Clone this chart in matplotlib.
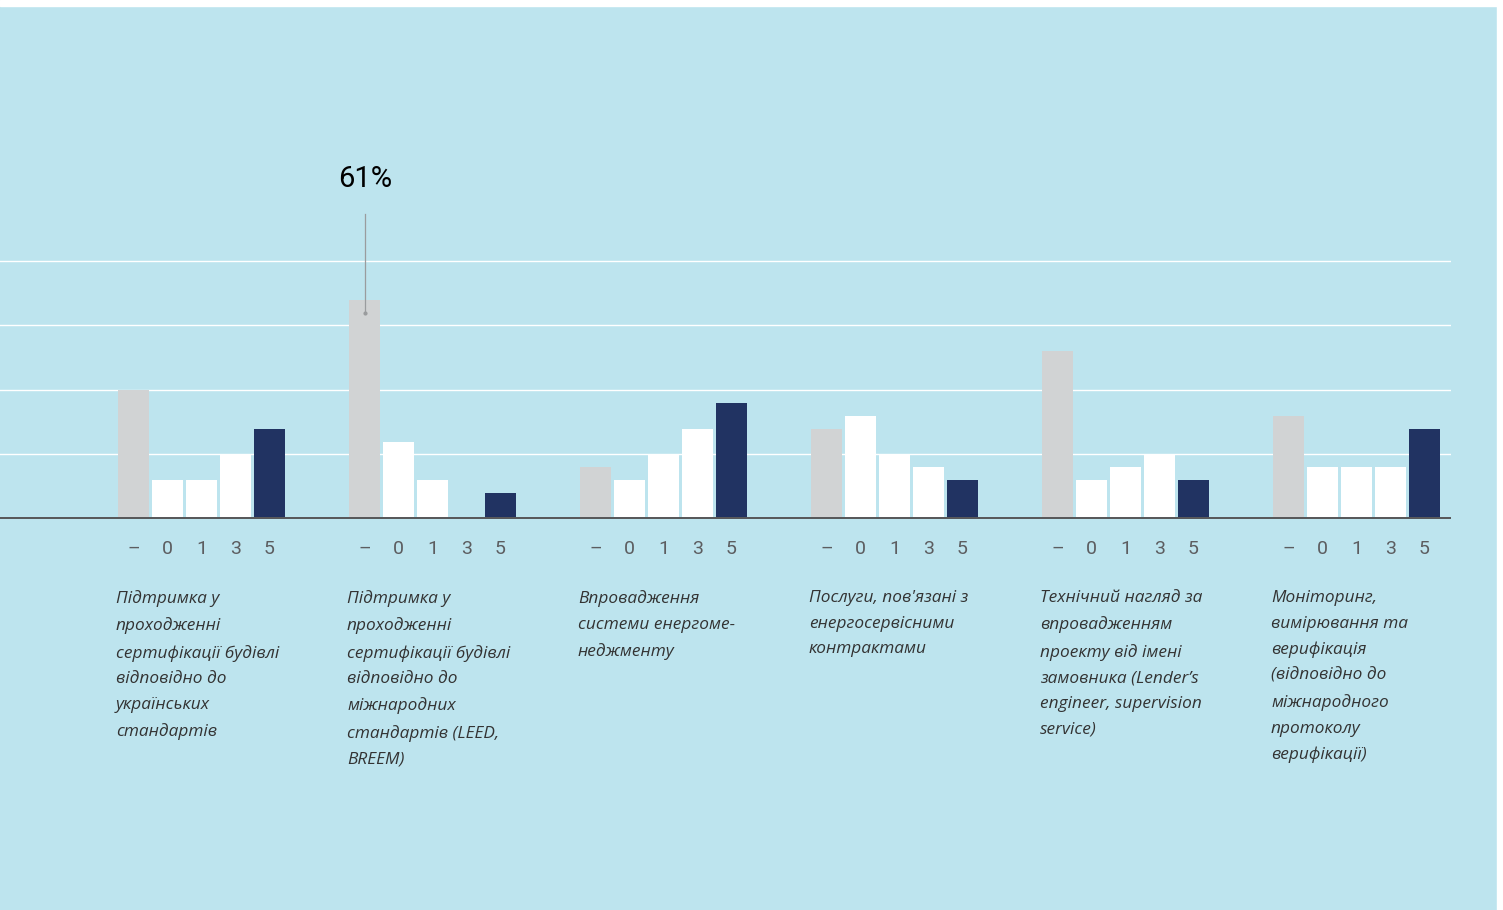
import matplotlib.pyplot as plt
from matplotlib.patches import Rectangle
from matplotlib import transforms

# respondents per answer, out of 28
total = 28
answers = ['–', '0', '1', '3', '5']
services = [
    "Підтримка у\nпроходженні\nсертифікації будівлі\nвідповідно до\nукраїнських\nстандартів",
    "Підтримка у\nпроходженні\nсертифікації будівлі\nвідповідно до\nміжнародних\nстандартів (LEED,\nBREEM)",
    "Впровадження\nсистеми енергоме-\nнеджменту",
    "Послуги, пов'язані з\nенергосервісними\nконтрактами",
    "Технічний нагляд за\nвпровадженням\nпроекту від імені\nзамовника (Lender’s\nengineer, supervision\nservice)",
    "Моніторинг,\nвимірювання та\nверифікація\n(відповідно до\nміжнародного\nпротоколу\nверифікації)",
]
counts = [
    [10, 3, 3, 5, 7],
    [17, 6, 3, 0, 2],
    [4, 3, 5, 7, 9],
    [7, 8, 5, 4, 3],
    [13, 3, 4, 5, 3],
    [8, 4, 4, 4, 7],
]
grid_counts = [5, 10, 15, 20]

bg = '#bde4ee'
bar_colors = ['#d1d3d4', 'white', 'white', 'white', '#213362']

W, H = 1503, 910
fig = plt.figure(figsize=(W / 100, H / 100), dpi=100, facecolor=bg)
# white margins on top and right
fig.patches.append(Rectangle((0, 1 - 6 / H), 1, 6 / H, transform=fig.transFigure,
                             color='white', zorder=-1))
fig.patches.append(Rectangle((1497 / W, 0), 6 / W, 1, transform=fig.transFigure,
                             color='white', zorder=-1))

ax = fig.add_axes([0, (H - 519) / H, 1451 / W, 513 / H])
ax.set_facecolor('none')
ax.set_xlim(0, 1451)
ax.set_ylim(0, 142)
for s in ax.spines.values():
    s.set_visible(False)

pct = lambda c: c * 100.0 / total

for y in grid_counts:
    ax.axhline(pct(y), color='white', lw=1.0, zorder=1)

group_x0 = 118
group_step = 231
bar_step = 34
bar_w = 31

xt, xl = [], []
for g, vals in enumerate(counts):
    for j, v in enumerate(vals):
        x = group_x0 + g * group_step + j * bar_step + bar_w / 2
        ax.bar(x, pct(v), width=bar_w, color=bar_colors[j], zorder=2)
        xt.append(x)
        xl.append(answers[j])

ax.axhline(0, color='#58595b', lw=3.6, zorder=3)
ax.set_xticks(xt)
ax.set_xticklabels(xl, fontsize=14, color='#5c5d60', family='Roboto')
ax.tick_params(axis='x', length=0, pad=15)
ax.set_yticks([])

# call-out for the largest share
gi, bi = 1, 0
xm = group_x0 + gi * group_step + bi * bar_step + bar_w / 2
vm = pct(counts[gi][bi])
ax.plot([xm, xm], [vm - 3.6, vm + 23.8], color='#9a9c9e', lw=0.9, zorder=4)
ax.plot([xm], [vm - 3.6], marker='o', ms=2, color='#9a9c9e', zorder=4)
ax.text(xm + 1, vm + 33.5, f"{round(vm)}%", ha='center', va='center',
        fontsize=21, color='black', family='Roboto')

tr = transforms.blended_transform_factory(ax.transData, fig.transFigure)
for g, label in enumerate(services):
    ax.text(group_x0 - 2 + g * group_step, 1 - 590 / H, label, transform=tr,
            ha='left', va='top', fontsize=12.4, style='italic', color='#333333',
            family='Open Sans', linespacing=1.8, clip_on=False)

fig.savefig('out.png', dpi=100, facecolor=bg)
